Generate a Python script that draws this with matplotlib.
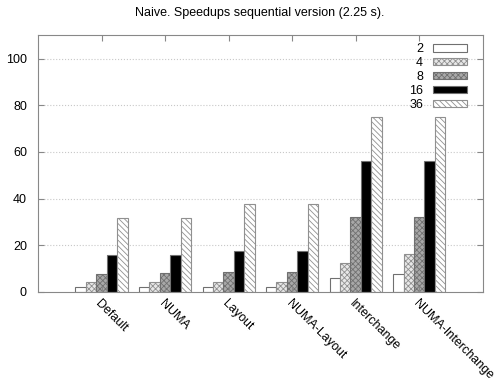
import numpy as np
import matplotlib
matplotlib.use("Agg")
import matplotlib.pyplot as plt

plt.rcParams['font.family'] = ['Liberation Sans', 'DejaVu Sans']
plt.rcParams['hatch.linewidth'] = 0.6

versions = ['Default', 'NUMA', 'Layout', 'NUMA-Layout', 'Interchange', 'NUMA-Interchange']
threads = ['2', '4', '8', '16', '36']
sp_2 = [2.0, 2.0, 2.0, 2.1, 6.1, 7.7]
sp_4 = [4.1, 4.1, 4.1, 4.1, 12.4, 16.1]
sp_8 = [7.6, 8.0, 8.4, 8.4, 32.1, 32.1]
sp_16 = [15.9, 15.9, 17.4, 17.4, 56.3, 56.3]
sp_36 = [31.9, 31.9, 37.7, 37.7, 74.9, 74.9]
series = [sp_2, sp_4, sp_8, sp_16, sp_36]

styles = [
    dict(facecolor='white', hatch=None, edgecolor='#707070'),
    dict(facecolor='#e8e8e8', hatch='xxxxxx', edgecolor='#909090'),
    dict(facecolor='#a8a8a8', hatch='xxxxxx', edgecolor='#707070'),
    dict(facecolor='black', hatch=None, edgecolor='#707070'),
    dict(facecolor='white', hatch='\\\\\\\\\\\\', edgecolor='#909090'),
]

fig = plt.figure(figsize=(5.02, 3.83), dpi=100)
ax = fig.add_axes([38/502, 1-292/383, (482.7-38)/502, (292-35.3)/383])

x = np.arange(len(versions))
w = 0.164
for i, (vals, st) in enumerate(zip(series, styles)):
    ax.bar(x + (i - 2) * w, vals, w, label=threads[i], linewidth=0.8, **st)

ax.set_xlim(-1.0, 6.0)
ax.set_ylim(0, 110)
ax.set_yticks(range(0, 101, 20))
ax.set_xticks(x)
ax.set_xticklabels(versions, rotation=-45, ha='left', va='top',
                   rotation_mode='anchor', fontsize=9)
ax.tick_params(axis='y', labelsize=9, direction='in', length=4, color='#888888',
               right=True, pad=8)
ax.tick_params(axis='x', direction='in', length=4, color='#888888', top=True, pad=4)
for s in ax.spines.values():
    s.set_color('#888888')
for yv in range(20, 101, 20):
    ax.axhline(yv, color='#c8c8c8', linestyle=':', linewidth=0.8, zorder=0)

ax.legend(loc='upper right', frameon=False, markerfirst=False, fontsize=9,
          handlelength=2.7, handleheight=0.55, labelspacing=0.15, borderpad=0,
          bbox_to_anchor=(473/502, 1-37/383), bbox_transform=fig.transFigure,
          handletextpad=0.8)

fig.text(260/502, 1-13/383, 'Naive. Speedups sequential version (2.25 s).',
         ha='center', va='center', fontsize=9)

fig.savefig('out.png', dpi=100)
